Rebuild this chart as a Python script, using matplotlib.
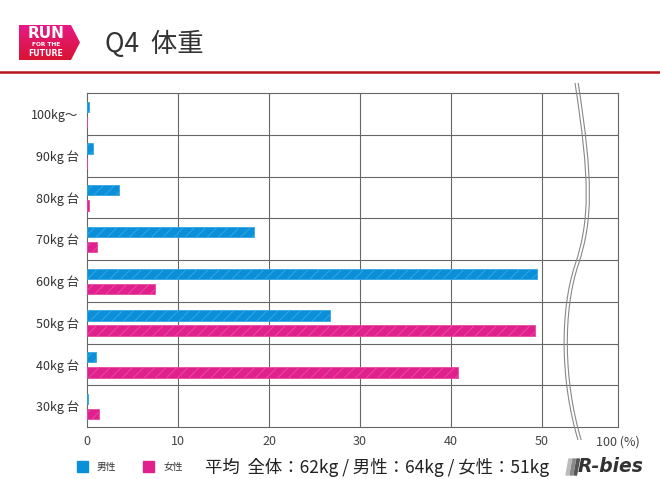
import numpy as np
import matplotlib.pyplot as plt
from matplotlib.path import Path
from matplotlib.patches import PathPatch, Polygon, Rectangle
from matplotlib.colors import LinearSegmentedColormap

plt.rcParams['font.family'] = ['Noto Sans CJK JP', 'DejaVu Sans']
plt.rcParams['hatch.linewidth'] = 0.7

categories = ['100kg～', '90kg 台', '80kg 台', '70kg 台', '60kg 台', '50kg 台', '40kg 台', '30kg 台']
male = [0.2, 0.7, 3.5, 18.3, 49.5, 26.7, 1.0, 0.1]
female = [0.0, 0.0, 0.2, 1.1, 7.5, 49.2, 40.8, 1.3]
xticks = [0, 10, 20, 30, 40, 50]
avg_text = '平均  全体：62kg / 男性：64kg / 女性：51kg'

blue = '#0a8fd8'
pink = '#e0208c'

W, H = 660, 479
fig = plt.figure(figsize=(W / 100, H / 100), dpi=100)


def fx(px):
    return px / W


def fy(py):
    return 1 - py / H


# header
fig.add_artist(plt.Line2D([0, 1], [fy(71.5), fy(71.5)], color='#b8141c', lw=1.8))
fig.text(fx(105), fy(44), 'Q4  体重', fontsize=19, color='#333333', va='center', ha='left')

# logo
lax = fig.add_axes([fx(18), fy(61), fx(63), (61 - 24) / H])
lax.set_xlim(0, 63)
lax.set_ylim(37, 0)
lax.axis('off')
grad = np.linspace(0, 1, 64).reshape(-1, 1)
cmap = LinearSegmentedColormap.from_list('logo', ['#e8198a', '#d8142e'])
im = lax.imshow(grad, cmap=cmap, extent=[0, 63, 37, 0], aspect='auto')
poly = Polygon([[1, 1], [53, 1], [62, 18.5], [53, 36], [1, 36]], closed=True,
               transform=lax.transData, facecolor='none', edgecolor='none')
lax.add_patch(poly)
im.set_clip_path(poly)
lax.text(28, 9.5, 'RUN', color='white', fontsize=11, fontweight='bold',
         ha='center', va='center', family='DejaVu Sans')
lax.text(28, 21, 'FOR THE', color='white', fontsize=4.2, fontweight='bold',
         ha='center', va='center', family='DejaVu Sans')
lax.text(28, 29, 'FUTURE', color='white', fontsize=5.6, fontweight='bold',
         ha='center', va='center', family='DejaVu Sans')

# main chart
ax = fig.add_axes([fx(87), fy(427), fx(618) - fx(87), fy(93) - fy(427)])
y = np.arange(len(categories))
ax.barh(y - 0.17, male, height=0.25, color=blue, edgecolor='#35a6e4',
        hatch='///', linewidth=0.6, zorder=3)
ax.barh(y + 0.19, female, height=0.25, color=pink, edgecolor='#e84aa2',
        hatch='///', linewidth=0.6, zorder=3)

xmax = 58.35
ax.set_xlim(0, xmax)
ax.set_ylim(len(categories) - 0.5, -0.5)
ax.set_yticks(y)
ax.set_yticklabels(categories, fontsize=9, color='#333333')
ax.set_xticks(xticks + [xmax])
ax.set_xticklabels([str(v) for v in xticks] + ['100 (%)'], fontsize=9, color='#444444')
ax.tick_params(length=0, pad=6)
for v in xticks[1:]:
    ax.axvline(v, color='#666666', lw=0.8, zorder=1)
for b in np.arange(0.5, len(categories) - 0.5):
    ax.axhline(b, color='#666666', lw=0.8, zorder=1)
for s in ax.spines.values():
    s.set_color('#666666')
    s.set_linewidth(0.8)

# axis break squiggle (drawn in pixel space)
verts = [(575, 83), (590, 180), (590, 220), (575, 265),
         (560, 310), (560, 380), (578, 440)]
codes = [Path.MOVETO] + [Path.CURVE4] * 6
for dx in (0, 3.2):
    pts = [(fx(px + dx), fy(py)) for px, py in verts]
    fig.add_artist(PathPatch(Path(pts, codes), transform=fig.transFigure,
                             facecolor='none', edgecolor='#888888', lw=0.8))

# bottom legend
fig.add_artist(Rectangle((fx(77), fy(472)), fx(11), 11 / H, color=blue, transform=fig.transFigure))
fig.text(fx(97), fy(467), '男性', fontsize=7, color='#333333', va='center')
fig.add_artist(Rectangle((fx(143), fy(472)), fx(11), 11 / H, color=pink, transform=fig.transFigure))
fig.text(fx(163), fy(467), '女性', fontsize=7, color='#333333', va='center')
fig.text(fx(205), fy(467), avg_text, fontsize=12.5, color='#222222', va='center')

# R-bies logo
for i, c in enumerate(['#bbbbbb', '#888888', '#555555']):
    x0 = 566 + i * 4
    fig.add_artist(Polygon([(fx(x0 + 3), fy(459)), (fx(x0 + 5.5), fy(459)),
                            (fx(x0 + 2.5), fy(475)), (fx(x0), fy(475))],
                           closed=True, color=c, transform=fig.transFigure))
fig.text(fx(578), fy(467), 'R-bies', fontsize=13.5, fontweight='bold', style='italic',
         color='#333333', va='center', family='DejaVu Sans')

fig.savefig('out.png', dpi=100)
